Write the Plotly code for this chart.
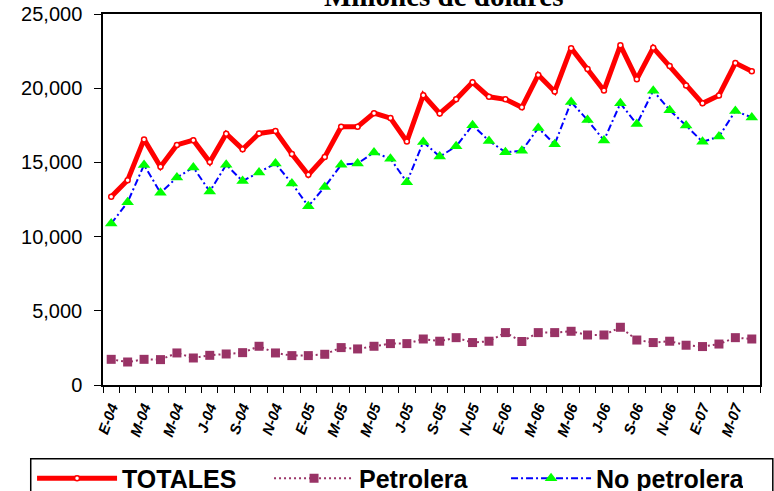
import plotly.graph_objects as go

# ---- data (millones de dólares), monthly Jan-2004 .. Apr-2007 ----
meses = [
    "E-04", "F-04", "M-04", "A-04", "M-04", "J-04", "J-04", "A-04", "S-04", "O-04", "N-04", "D-04",
    "E-05", "F-05", "M-05", "A-05", "M-05", "J-05", "J-05", "A-05", "S-05", "O-05", "N-05", "D-05",
    "E-06", "F-06", "M-06", "A-06", "M-06", "J-06", "J-06", "A-06", "S-06", "O-06", "N-06", "D-06",
    "E-07", "F-07", "M-07", "A-07",
]

totales = [12680, 13800, 16550, 14700, 16180, 16500, 15020, 16930, 15890, 16950,
           17110, 15560, 14160, 15370, 17400, 17400, 18320, 17990, 16410, 19530,
           18300, 19250, 20400, 19420, 19250, 18710, 20890, 19780, 22700, 21300,
           19850, 22890, 20610, 22720, 21490, 20180, 18980, 19510, 21690, 21140]

petrolera = [1730, 1550, 1730, 1710, 2160, 1820, 2000, 2090, 2180, 2610,
             2160, 1980, 1980, 2070, 2520, 2430, 2610, 2790, 2790, 3100,
             2950, 3190, 2860, 2950, 3530, 2930, 3530, 3530, 3620, 3370,
             3370, 3890, 3030, 2860, 2950, 2680, 2590, 2760, 3190, 3100]

no_petrolera = [10880, 12320, 14830, 12950, 13980, 14660, 13040, 14840, 13740, 14320,
                14930, 13580, 12050, 13350, 14840, 14930, 15670, 15250, 13670, 16370,
                15390, 16080, 17510, 16450, 15690, 15780, 17320, 16220, 19070, 17850,
                16480, 18980, 17580, 19830, 18520, 17480, 16390, 16740, 18460, 18030]

y_ticks = [0, 5000, 10000, 15000, 20000, 25000]

x = list(range(len(meses)))
tick_idx = x[::2]
tick_txt = [meses[i] for i in tick_idx]

fig = go.Figure()

fig.add_trace(go.Scatter(
    x=x, y=totales, name="TOTALES", mode="lines+markers",
    line=dict(color="#FF0000", width=5),
    marker=dict(symbol="circle", size=5, color="white",
                line=dict(color="#FF0000", width=1.5)),
))
fig.add_trace(go.Scatter(
    x=x, y=petrolera, name="Petrolera", mode="lines+markers",
    line=dict(color="#993366", width=2, dash="2px,3px"),
    marker=dict(symbol="square", size=9, color="#993366"),
))
fig.add_trace(go.Scatter(
    x=x, y=no_petrolera, name="No petrolera", mode="lines+markers",
    line=dict(color="#0000FF", width=2, dash="7px,3px,2px,3px"),
    marker=dict(symbol="triangle-up", size=11, color="#00FF00"),
))

fig.add_annotation(
    text="Millones de dólares", xref="paper", yref="paper",
    x=0.519, y=1.0, xanchor="center", yanchor="bottom", showarrow=False,
    font=dict(family="Liberation Serif, Times New Roman, serif", size=29,
              color="black", weight="bold"),
)

# legend frame (extends past the bottom edge, as in the reference)
fig.add_shape(
    type="rect", xref="paper", yref="paper",
    x0=-0.110, x1=1.0195, y0=-0.1985, y1=-0.32,
    line=dict(color="black", width=1.5), fillcolor="rgba(0,0,0,0)",
    layer="above",
)

fig.update_layout(
    width=774, height=491,
    margin=dict(l=103, r=14, t=14, b=106, autoexpand=False),
    paper_bgcolor="white", plot_bgcolor="white",
    font=dict(family="Liberation Sans, Arial, sans-serif", color="black"),
    showlegend=True,
    legend=dict(
        orientation="h", x=-0.108, y=-0.19, xanchor="left", yanchor="top",
        borderwidth=0, bgcolor="rgba(0,0,0,0)",
        font=dict(family="Liberation Sans, Arial, sans-serif", size=25,
                  color="black", weight="bold"),
        itemwidth=80, entrywidthmode="pixels", entrywidth=142,
    ),
    xaxis=dict(
        range=[-0.5, len(meses) - 0.5],
        tickmode="array", tickvals=tick_idx, ticktext=tick_txt,
        ticks="", tickangle=-70,
        tickfont=dict(family="Liberation Sans, Arial, sans-serif", size=15,
                      color="black", weight="bold", style="italic"),
        ticklabelstandoff=6,
        minor=dict(ticks="outside", ticklen=6, tickcolor="black", tickwidth=1,
                   tickmode="linear", tick0=-0.5, dtick=1, showgrid=False),
        showline=True, linecolor="black", linewidth=1.5, mirror=True,
        showgrid=False, zeroline=False,
    ),
    yaxis=dict(
        range=[0, 25000], tickmode="array", tickvals=y_ticks,
        tickformat=",", ticks="outside", ticklen=7, tickcolor="black",
        tickfont=dict(family="Liberation Sans, Arial, sans-serif", size=20,
                      color="black"),
        ticklabelstandoff=8,
        showline=True, linecolor="black", linewidth=1.5, mirror=True,
        showgrid=False, zeroline=False,
    ),
)

fig.write_html(
    "out.html",
    config={"displayModeBar": False},
    post_script="document.body.style.margin='0';document.body.style.overflow='hidden';",
)
